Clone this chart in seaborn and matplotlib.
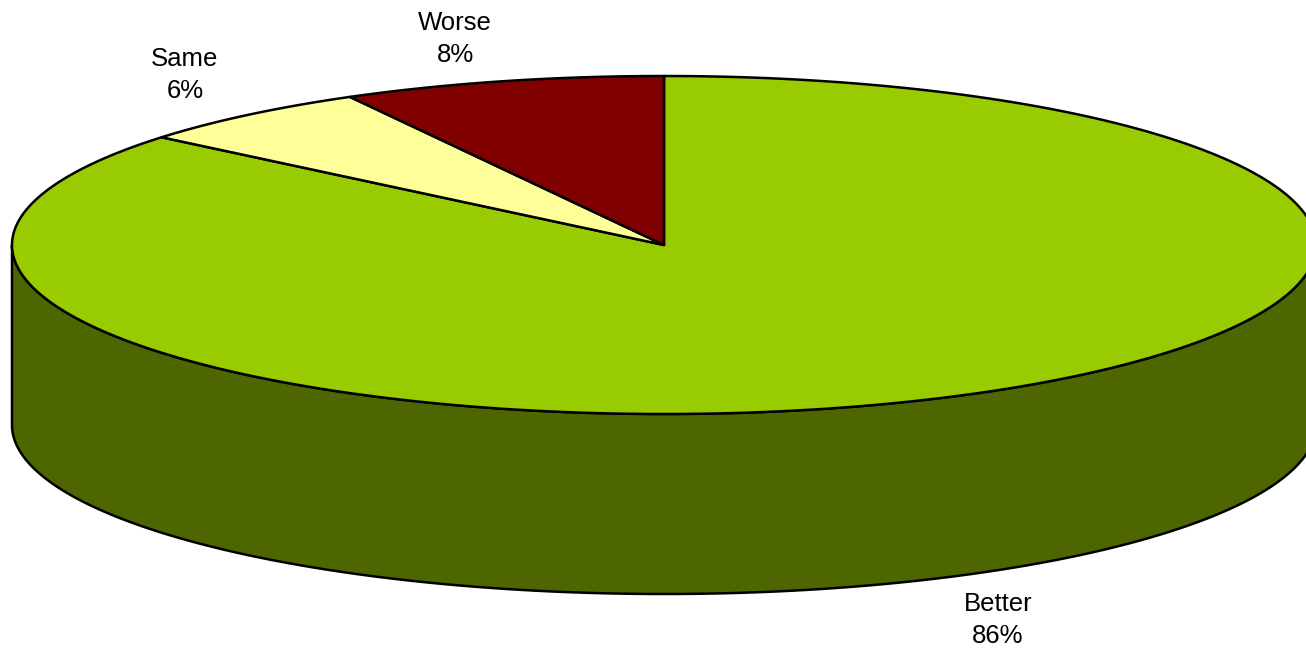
import numpy as np
import matplotlib
matplotlib.use("Agg")
import matplotlib.pyplot as plt
from matplotlib.patches import Polygon
import seaborn as sns

# Survey result shares (percent)
categories = ["Better", "Same", "Worse"]
values = [86, 6, 8]
top_colors = ["#99CC00", "#FFFF99", "#800000"]
side_colors = ["#4D6600", "#80804D", "#400000"]

sns.set_theme(style="white")
plt.rcParams["font.family"] = ["Liberation Sans", "DejaVu Sans"]

W, H = 1306, 654
fig = plt.figure(figsize=(W / 100, H / 100), dpi=100)
ax = fig.add_axes([0, 0, 1, 1])
ax.set_xlim(0, W)
ax.set_ylim(H, 0)
ax.axis("off")

# Pie geometry (pixel space, y grows downward)
cx, cy = 664, 245
rx, ry = 652, 169
depth = 180
edge = dict(edgecolor="black", linewidth=1.8, joinstyle="round")


def pt(t, dy=0.0):
    t = np.radians(t)
    return cx + rx * np.cos(t), cy - ry * np.sin(t) + dy


# Slice angles: Better runs clockwise from 12 o'clock, the others counter-clockwise
total = float(sum(values))
better, same, worse = values
a_worse0 = 90.0
a_worse1 = a_worse0 + worse / total * 360
a_same1 = a_worse1 + same / total * 360
spans = {
    "Better": (a_same1, 450.0),
    "Same": (a_worse1, a_same1),
    "Worse": (a_worse0, a_worse1),
}

# Outer walls: only the front half (180..360 deg) is visible
for name, col_side in zip(categories, side_colors):
    t0, t1 = spans[name]
    lo, hi = max(t0, 180.0), min(t1, 360.0)
    if hi <= lo:
        continue
    ts = np.linspace(lo, hi, 300)
    upper = [pt(t) for t in ts]
    lower = [pt(t, depth) for t in ts[::-1]]
    ax.add_patch(Polygon(upper + lower, closed=True, facecolor=col_side, **edge, zorder=1))

# Top faces
for name, col_top in zip(categories, top_colors):
    t0, t1 = spans[name]
    ts = np.linspace(t0, t1, 600)
    verts = [(cx, cy)] + [pt(t) for t in ts]
    ax.add_patch(Polygon(verts, closed=True, facecolor=col_top, **edge, zorder=2))

# Labels
label_pos = {"Worse": (455, 39), "Same": (185, 75), "Better": (998, 620)}
for name, v in zip(categories, values):
    x, y = label_pos[name]
    ax.text(x, y, f"{name}\n{v}%", ha="center", va="center", fontsize=18.5,
            linespacing=1.4, color="black")

fig.savefig("out.png", dpi=100, facecolor="white")
